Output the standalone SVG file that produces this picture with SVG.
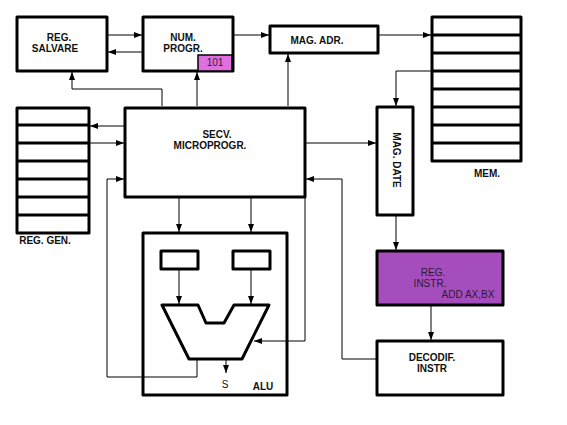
<svg xmlns="http://www.w3.org/2000/svg" width="567" height="425" viewBox="0 0 567 425">
<defs>
<marker id="ah" markerWidth="8" markerHeight="6" refX="8" refY="3" orient="auto" markerUnits="userSpaceOnUse">
<path d="M0,0 L8,3 L0,6 Z" fill="#000"/>
</marker>
<style>
.box{fill:#fff;stroke:#000;stroke-width:3;stroke-linejoin:round}
.row{stroke:#000;stroke-width:3}
.c{fill:none;stroke:#000;stroke-width:1}
.a{marker-end:url(#ah)}
.t{font-family:"Liberation Sans",Arial,sans-serif;font-size:10px;font-weight:bold;fill:#111;text-anchor:middle}
.n{font-family:"Liberation Sans",Arial,sans-serif;font-size:10px;fill:#2a1a3a;text-anchor:middle}
</style>
</defs>
<rect width="567" height="425" fill="#fff"/>

<g id="reg-salvare">
<rect class="box" x="17" y="17" width="90" height="54"/>
<text class="t" x="59" y="41">REG.</text>
<text class="t" x="55" y="52">SALVARE</text>
</g>

<g id="num-progr">
<rect class="box" x="143" y="17" width="90" height="54"/>
<rect x="198" y="55" width="34" height="16" fill="#e070e0" stroke="#000" stroke-width="1.5"/>
<text class="t" x="183" y="41">NUM.</text>
<text class="t" x="183" y="52">PROGR.</text>
<text class="n" x="215" y="66">101</text>
</g>

<g id="mag-adr">
<rect class="box" x="270" y="26" width="108" height="27"/>
<text class="t" x="317" y="44">MAG. ADR.</text>
</g>

<g id="mem">
<rect class="box" x="432" y="17" width="89" height="144"/>
<line class="row" x1="432" y1="35" x2="521" y2="35"/>
<line class="row" x1="432" y1="53" x2="521" y2="53"/>
<line class="row" x1="432" y1="71" x2="521" y2="71"/>
<line class="row" x1="432" y1="89" x2="521" y2="89"/>
<line class="row" x1="432" y1="107" x2="521" y2="107"/>
<line class="row" x1="432" y1="125" x2="521" y2="125"/>
<line class="row" x1="432" y1="143" x2="521" y2="143"/>
<text class="t" x="487" y="177">MEM.</text>
</g>

<g id="reg-gen">
<rect class="box" x="17" y="108" width="72" height="125"/>
<line class="row" x1="17" y1="125" x2="89" y2="125"/>
<line class="row" x1="17" y1="143" x2="89" y2="143"/>
<line class="row" x1="17" y1="161" x2="89" y2="161"/>
<line class="row" x1="17" y1="179" x2="89" y2="179"/>
<line class="row" x1="17" y1="197" x2="89" y2="197"/>
<line class="row" x1="17" y1="215" x2="89" y2="215"/>
<text class="t" x="45" y="244">REG. GEN.</text>
</g>

<g id="secv-microprogr">
<rect class="box" x="125" y="108" width="180" height="89"/>
<text class="t" x="217" y="138">SECV.</text>
<text class="t" x="210" y="149">MICROPROGR.</text>
</g>

<g id="mag-date">
<rect class="box" x="377" y="107" width="36" height="108"/>
<text class="t" transform="translate(393,160) rotate(90)" x="0" y="0">MAG. DATE</text>
</g>

<g id="alu">
<rect class="box" x="143" y="233" width="144" height="162"/>
<rect class="box" x="161" y="251" width="37" height="18"/>
<rect class="box" x="233" y="251" width="37" height="18"/>
<polygon points="162,305 198,305 206,323 224,323 234,305 269,305 242,359 189,359" fill="#fff" stroke="#000" stroke-width="3" stroke-linejoin="round"/>
<text class="n" x="225" y="388" style="fill:#111">S</text>
<text class="t" x="263" y="390">ALU</text>
</g>

<g id="reg-instr">
<rect x="377" y="251" width="126" height="54" fill="#a64dbd" stroke="#000" stroke-width="3" stroke-linejoin="round"/>
<text class="n" x="433" y="276">REG.</text>
<text class="n" x="430" y="287">INSTR.</text>
<text class="n" x="468" y="298">ADD AX,BX</text>
</g>

<g id="decodif-instr">
<rect class="box" x="377" y="341" width="126" height="54"/>
<text class="t" x="432" y="361">DECODIF.</text>
<text class="t" x="432" y="372">INSTR</text>
</g>

<g id="connectors">
<line class="c a" x1="108" y1="35" x2="142" y2="35"/>
<line class="c a" x1="142" y1="52" x2="108" y2="52"/>
<line class="c a" x1="234" y1="35" x2="269" y2="35"/>
<line class="c a" x1="379" y1="35" x2="431" y2="35"/>
<polyline class="c a" points="431,71 396,71 396,106"/>
<polyline class="c a" points="162,106 162,89 72,89 72,72"/>
<line class="c a" x1="197" y1="106" x2="197" y2="72"/>
<line class="c a" x1="288" y1="106" x2="288" y2="54"/>
<line class="c a" x1="124" y1="126" x2="90" y2="126"/>
<line class="c a" x1="90" y1="143" x2="124" y2="143"/>
<polyline class="c a" points="197,360 197,377 107,377 107,179 124,179"/>
<line class="c a" x1="306" y1="143" x2="376" y2="143"/>
<polyline class="c a" points="376,359 342,359 342,179 306,179"/>
<polyline class="c a" points="305,198 305,341 254,341"/>
<line class="c a" x1="179" y1="198" x2="179" y2="232"/>
<line class="c a" x1="251" y1="198" x2="251" y2="232"/>
<line class="c a" x1="179" y1="270" x2="179" y2="304"/>
<line class="c a" x1="251" y1="270" x2="251" y2="304"/>
<line class="c a" x1="226" y1="360" x2="226" y2="373"/>
<line class="c a" x1="396" y1="216" x2="396" y2="250"/>
<line class="c a" x1="431" y1="306" x2="431" y2="340"/>
</g>
</svg>
